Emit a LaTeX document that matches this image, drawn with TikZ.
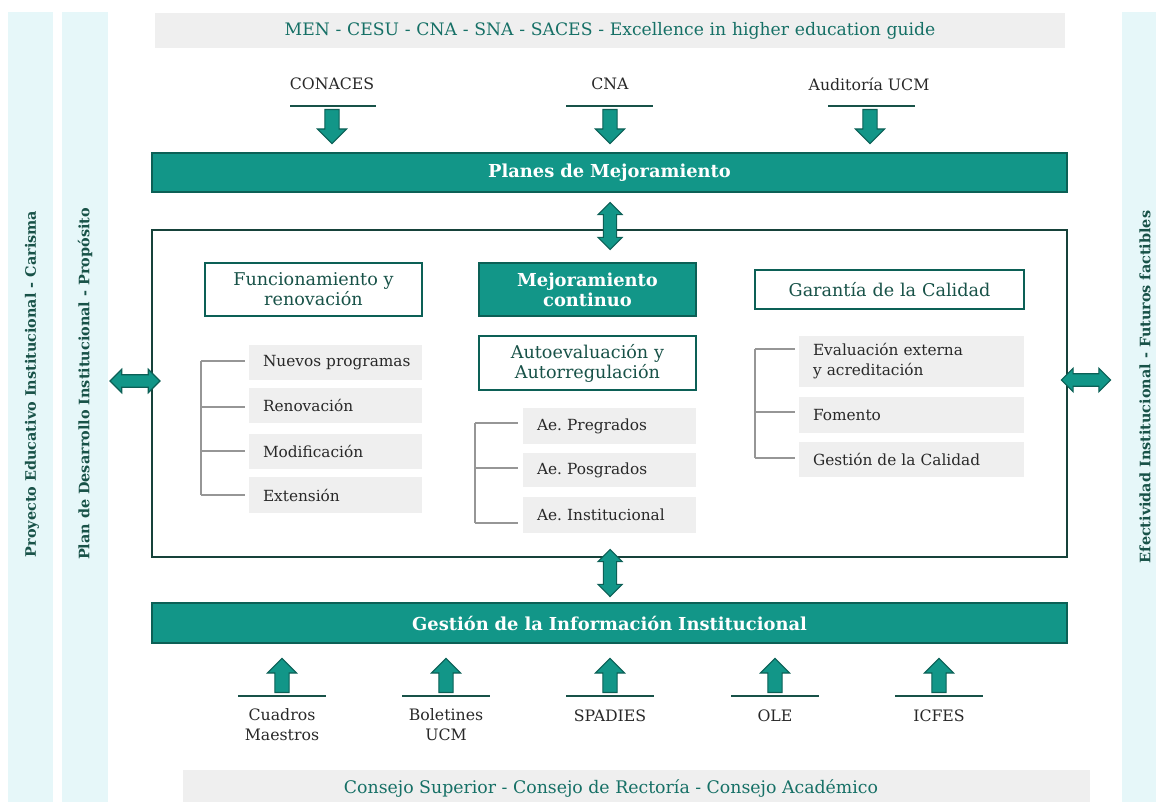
\documentclass[tikz,border=0pt]{standalone}
\usepackage{fontspec}
\setmainfont{DejaVu Serif}
\usetikzlibrary{shapes.arrows,calc}
\definecolor{tealfill}{RGB}{18,150,136}
\definecolor{tealedge}{RGB}{12,96,86}
\definecolor{tealtext}{RGB}{22,112,102}
\definecolor{darkteal}{RGB}{24,82,72}
\definecolor{stripc}{RGB}{230,247,249}
\definecolor{grayc}{RGB}{239,239,239}
\definecolor{treec}{RGB}{150,150,150}
\definecolor{txt}{RGB}{40,40,40}
\definecolor{boxedge}{RGB}{22,66,58}
\newcommand\bx[7]{%
  \pgfmathsetmacro\bw{(#5-#3)*0.75}%
  \pgfmathsetmacro\bh{(#6-#4)*0.75}%
  \pgfmathsetmacro\tw{max(\bw-21,1)}%
  \node[#1, minimum width=\bw pt, minimum height=\bh pt, text width=\tw pt,
        inner xsep=10.5pt, inner ysep=0pt] (#2) at ({(#3+#5)/2},{(#4+#6)/2}) {#7};}
\begin{document}
\begin{tikzpicture}[x=0.75pt,y=-0.75pt,
  strip/.style={fill=stripc, draw=none},
  graybar/.style={fill=grayc, draw=none, align=center, text=tealtext, font=\fontsize{12.9}{15}\selectfont},
  bartxt/.style={text=tealtext, font=\fontsize{13}{15}\selectfont},
  bar/.style={fill=tealfill, draw=tealedge, line width=1.2pt, text=white, align=center, font=\bfseries\fontsize{13.4}{15}\selectfont},
  mainbox/.style={fill=white, draw=boxedge, line width=1.1pt},
  headbox/.style={fill=white, draw=tealedge, line width=1pt, text=darkteal, align=center, font=\fontsize{13.2}{15}\selectfont},
  headfill/.style={fill=tealfill, draw=tealedge, line width=1pt, text=white, align=center, font=\bfseries\fontsize{13.4}{15}\selectfont},
  item/.style={fill=grayc, draw=none, text=txt, align=left, font=\fontsize{11.5}{15}\selectfont},
  lbl/.style={text=txt, align=center, font=\fontsize{11.8}{15}\selectfont},
  vtext/.style={rotate=90, text=darkteal, font=\bfseries\fontsize{10.8}{12}\selectfont},
  tree/.style={draw=treec, line width=0.8pt},
  tick/.style={draw=darkteal, line width=1.5pt},
  blk/.style={single arrow, fill=tealfill, draw=tealedge, line width=0.8pt, inner sep=4.9pt,
              single arrow head extend=5.6pt, single arrow tip angle=90, minimum height=25.5pt},
  dblk/.style={double arrow, fill=tealfill, draw=tealedge, line width=0.8pt, inner sep=4.6pt,
              double arrow head extend=4.1pt, double arrow tip angle=90, minimum height=35.25pt}
]
\useasboundingbox (0,0) rectangle (1156,802);
% side strips
\bx{strip}{s1}{8}{12}{53}{802}{}
\bx{strip}{s2}{62}{12}{108}{802}{}
\bx{strip}{s3}{1122}{12}{1156}{802}{}
\node[vtext] (v1) at (32,384) {Proyecto Educativo Institucional - Carisma};
\node[vtext] (v2) at (85,384) {Plan de Desarrollo Institucional - Propósito};
\node[vtext] (v3) at (1145,387) {Efectividad Institucional - Futuros factibles};
% top bar
\bx{graybar}{top}{155}{13}{1065}{48}{MEN - CESU - CNA - SNA - SACES - Excellence in higher education guide}
% top labels
\node[lbl] (conaces) at (332,84) {CONACES};
\node[lbl] (cna) at (610,84) {CNA};
\node[lbl] (audit) at (869,84) {Auditoría UCM};
\coordinate (t1l) at (290,106); \coordinate (t1r) at (376,106);
\coordinate (t2l) at (566,106); \coordinate (t2r) at (653,106);
\coordinate (t3l) at (828,106); \coordinate (t3r) at (915,106);
\draw[tick] (t1l) -- (t1r);
\draw[tick] (t2l) -- (t2r);
\draw[tick] (t3l) -- (t3r);
% Planes bar
\bx{bar}{planes}{152}{153}{1067}{192}{Planes de Mejoramiento}
\node[blk, rotate=-90] (a1) at (332,123) {};
\node[blk, rotate=-90] (a2) at (610,123) {};
\node[blk, rotate=-90] (a3) at (870,123) {};
% main box
\bx{mainbox}{main}{152}{230}{1067}{557}{}
% heads
\bx{headbox}{fr}{205}{263}{422}{316}{Funcionamiento y\\renovación}
\bx{headfill}{mc}{479}{263}{696}{316}{Mejoramiento\\continuo}
\bx{headbox}{aa}{479}{336}{696}{390}{Autoevaluación y\\Autorregulación}
\bx{headbox}{gc}{755}{270}{1024}{309}{Garantía de la Calidad}
% items
\bx{item}{np}{249}{345}{422}{380}{\mbox{Nuevos programas}}
\bx{item}{re}{249}{388}{422}{423}{Renovación}
\bx{item}{mo}{249}{434}{422}{469}{Modificación}
\bx{item}{ex}{249}{477}{422}{513}{Extensión}
\bx{item}{ap}{523}{408}{696}{444}{Ae.\ Pregrados}
\bx{item}{apo}{523}{453}{696}{487}{Ae.\ Posgrados}
\bx{item}{ai}{523}{497}{696}{533}{Ae.\ Institucional}
\bx{item}{ev}{799}{336}{1024}{387}{Evaluación externa\\y acreditación}
\bx{item}{fo}{799}{397}{1024}{433}{Fomento}
\bx{item}{gd}{799}{442}{1024}{477}{Gestión de la Calidad}
% trees
\coordinate (l1) at (201,361); \coordinate (l2) at (201,407);
\coordinate (l3) at (201,451); \coordinate (l4) at (201,495);
\draw[tree] (l1) -- (l4);
\draw[tree, shorten >=3pt] (l1) -- (l1 -| np.west);
\draw[tree, shorten >=3pt] (l2) -- (l2 -| re.west);
\draw[tree, shorten >=3pt] (l3) -- (l3 -| mo.west);
\draw[tree, shorten >=3pt] (l4) -- (l4 -| ex.west);
\coordinate (m1) at (475,423); \coordinate (m2) at (475,468); \coordinate (m3) at (475,523);
\draw[tree] (m1) -- (m3);
\draw[tree, shorten >=3.75pt] (m1) -- (m1 -| ap.west);
\draw[tree, shorten >=3.75pt] (m2) -- (m2 -| apo.west);
\draw[tree, shorten >=3.75pt] (m3) -- (m3 -| ai.west);
\coordinate (r1) at (755,349); \coordinate (r2) at (755,412); \coordinate (r3) at (755,458);
\draw[tree] (r1) -- (r3);
\draw[tree, shorten >=3pt] (r1) -- (r1 -| ev.west);
\draw[tree, shorten >=3pt] (r2) -- (r2 -| fo.west);
\draw[tree, shorten >=3pt] (r3) -- (r3 -| gd.west);
% double arrows
\node[dblk, rotate=90] (d1) at (610,226) {};
\node[dblk, rotate=90] (d2) at (610,573) {};
\node[dblk, minimum height=37.5pt, inner sep=4.3pt] (dl) at (135,381) {};
\node[dblk, minimum height=37pt, inner sep=4.3pt] (dr) at (1086,380) {};
% Gestion bar
\bx{bar}{gest}{152}{603}{1067}{643}{Gestión de la Información Institucional}
% bottom sources
\foreach \x/\n in {282/b1,446/b2,610/b3,775/b4,939/b5}{
  \node[blk, rotate=90] (\n) at (\x,679) {};
  \coordinate (\n l) at (\x-44,696); \coordinate (\n r) at (\x+44,696);
  \draw[tick] (\n l) -- (\n r);
}
\node[lbl] (cm) at (282,725) {Cuadros\\Maestros};
\node[lbl] (bu) at (446,725) {Boletines\\UCM};
\node[lbl] (sp) at (610,716) {SPADIES};
\node[lbl] (ole) at (775,716) {OLE};
\node[lbl] (icf) at (939,716) {ICFES};
% bottom bar
\bx{graybar}{bot}{183}{770}{1090}{802}{}
\node[bartxt] (bott) at (611,788) {Consejo Superior - Consejo de Rectoría - Consejo Académico};
\end{tikzpicture}
\end{document}
